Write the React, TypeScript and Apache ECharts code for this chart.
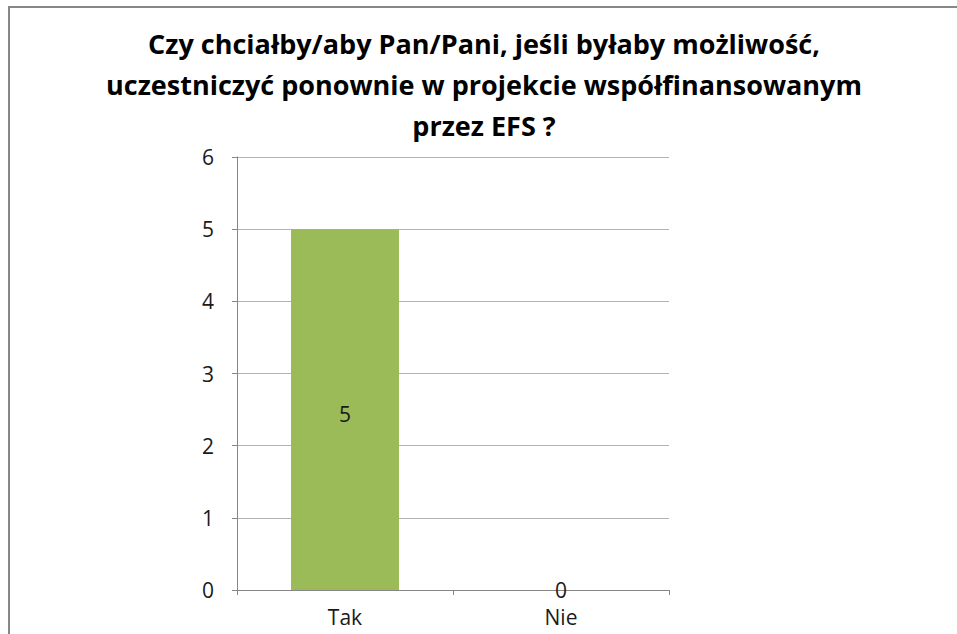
import React, { useEffect, useRef } from "react";
import * as echarts from "echarts";

const categories = ["Tak", "Nie"];
const values = [5, 0];
const yTicks = [0, 1, 2, 3, 4, 5, 6];
const titleLines = [
  "Czy chciałby/aby Pan/Pani, jeśli byłaby możliwość,",
  "uczestniczyć ponownie w projekcie współfinansowanym",
  "przez EFS ?",
];

export default function App() {
  const ref = useRef<HTMLDivElement>(null);
  useEffect(() => {
    if (!ref.current) return;
    const chart = echarts.init(ref.current, undefined, { renderer: "svg" });
    const font = "'Open Sans', 'Noto Sans', sans-serif";
    chart.setOption({
      animation: false,
      backgroundColor: "#ffffff",
      title: {
        text: titleLines.join("\n"),
        left: 479,
        textAlign: "center",
        top: 18,
        textStyle: {
          fontFamily: font,
          fontWeight: "bold",
          fontSize: 27,
          lineHeight: 41,
          color: "#000000",
        },
      },
      graphic: [
        {
          type: "rect",
          shape: { x: 9, y: 7, width: 1200, height: 1000 },
          style: { fill: "none", stroke: "#878787", lineWidth: 2 },
          silent: true,
        },
      ],
      grid: { left: 237, right: 288, top: 157, bottom: 44 },
      xAxis: {
        type: "category",
        data: categories,
        axisLine: { lineStyle: { color: "#868686", width: 1 } },
        axisTick: { show: true, length: 5, alignWithLabel: false, lineStyle: { color: "#868686" } },
        axisLabel: { fontFamily: font, fontSize: 21, lineHeight: 22, color: "#1a1a1a", margin: 16 },
      },
      yAxis: {
        type: "value",
        min: yTicks[0],
        max: yTicks[yTicks.length - 1],
        interval: 1,
        axisLine: { show: true, lineStyle: { color: "#868686", width: 1 } },
        axisTick: { show: true, length: 5, lineStyle: { color: "#868686" } },
        axisLabel: { fontFamily: font, fontSize: 21, color: "#1a1a1a", margin: 23 },
        splitLine: { lineStyle: { color: "#b3b3b3", width: 1 } },
      },
      series: [
        {
          type: "bar",
          data: values.map((v) => ({
            value: v,
            label: { offset: v > 0 ? [0, 4] : [0, 0] },
          })),
          barCategoryGap: "50%",
          itemStyle: { color: "#9BBB59" },
          label: {
            show: true,
            position: "inside",
            fontFamily: font,
            fontSize: 21,
            color: "#1a1a1a",
          },
        },
      ],
    });
    return () => chart.dispose();
  }, []);
  return (
    <div
      ref={ref}
      style={{ position: "fixed", left: 0, top: 0, width: 957, height: 634 }}
    />
  );
}
